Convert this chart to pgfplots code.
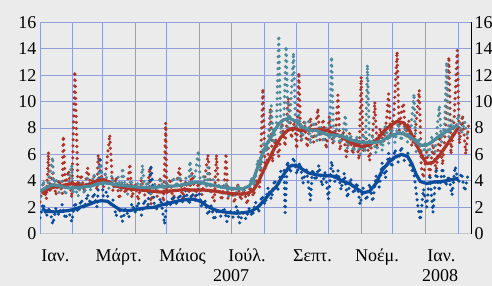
\documentclass[border=0pt]{standalone}
\usepackage{pgfplots}
\pgfplotsset{compat=1.18}
\usepackage{fontspec}
\setmainfont{Liberation Serif}
\definecolor{bg}{HTML}{EBEBEB}
\definecolor{gridc}{HTML}{909FDA}
\definecolor{cblue}{HTML}{0B4C9C}
\definecolor{cred}{HTML}{AE3329}
\definecolor{cteal}{HTML}{4C8A9C}
\begin{document}
\begin{tikzpicture}
\useasboundingbox (0,0) rectangle (492pt,286pt);
\clip (0,0) rectangle (492pt,286pt);
\fill[bg] (0,0) rectangle (492pt,286pt);
\pgfplotsset{
  dotser/.style={line width=3.5pt, line cap=round, dash pattern=on 0pt off 6pt},
  thickser/.style={line width=3.2pt, line join=round},
}
\begin{axis}[
  at={(40pt,52.3pt)}, anchor=south west,
  scale only axis, width=431pt, height=211.4pt,
  xmin=0, xmax=408, ymin=0, ymax=16,
  axis lines*=left,
  x axis line style={gray!45, line width=1.2pt},
  y axis line style={black, line width=0.8pt},
  xtick={14.5,74.5,135,196,258,319,380},
  xticklabels={Ιαν.,Μάρτ.,Μάιος,Ιούλ.,Σεπτ.,Νοέμ.,Ιαν.},
  x tick style={draw=none},
  xticklabel style={anchor=base, yshift=-28pt},
  extra x ticks={0,31,59,90,120,151,181,212,243,273,304,334,365,396},
  extra x tick labels={},
  extra x tick style={grid=major, tick align=outside, major tick length=3pt, tick style={gray!70, line width=1pt}},
  ytick={0,2,...,16},
  ymajorgrids=true,
  y tick style={draw=none},
  grid style={gridc, line width=0.9pt},
  tick label style={font=\fontsize{18}{20}\selectfont},
  /pgf/number format/assume math mode=true,
  axis background/.style={fill=bg},
]
% red daily series
\addplot[cred, dotser] coordinates {
(0,2.4)(3,3.8)(6,2.6)(8,6.2)(9,3.1)(12,4.6)(15,2.9)(18,4.1)(21,3.0)(22,7.4)(24,3.6)(27,4.8)(30,2.7)(33,12.3)(36,3.4)(39,4.5)(42,3.1)(45,5.0)(48,3.6)(51,4.4)(54,3.3)(55,6.0)(57,4.8)(60,3.5)(63,5.2)(66,7.5)(69,3.2)(72,4.3)(75,2.6)(78,3.9)(81,3.0)(84,4.5)(85,5.3)(87,2.7)(90,3.8)(93,2.5)(96,4.1)(99,2.9)(102,3.6)(104,5.0)(105,2.2)(108,3.9)(111,2.8)(114,4.3)(117,2.4)(119,8.4)(120,3.0)(123,4.2)(126,2.5)(129,3.7)(132,5.0)(135,2.6)(138,4.0)(141,3.0)(144,4.6)(147,2.8)(150,3.9)(153,2.9)(156,4.2)(159,6.0)(162,3.1)(165,2.4)(167,6.0)(169,3.5)(172,2.5)(175,4.3)(176,6.1)(178,2.6)(181,3.6)(184,2.3)(187,3.8)(190,2.5)(193,3.4)(196,2.2)(199,3.6)(202,2.8)(205,4.2)(208,3.5)(211,11.0)(213,4.8)(216,6.0)(218,9.5)(220,5.4)(223,7.2)(226,5.8)(229,8.4)(232,6.6)(235,10.3)(238,7.2)(241,8.6)(243,6.4)(245,12.2)(247,7.0)(250,8.5)(253,6.5)(256,8.8)(259,6.9)(263,9.5)(265,7.1)(268,8.7)(271,6.4)(274,8.9)(277,6.8)(280,7.9)(282,10.5)(284,6.3)(287,7.8)(290,5.8)(293,7.6)(296,6.0)(299,7.3)(302,5.6)(304,11.9)(306,6.2)(309,7.2)(312,5.5)(315,7.6)(317,10.0)(319,6.4)(322,8.0)(325,6.9)(328,8.6)(330,10.6)(332,7.5)(335,9.0)(338,13.8)(340,7.8)(342,9.2)(344,9.9)(346,7.4)(349,8.6)(352,6.6)(355,7.5)(359,10.9)(361,5.0)(363,4.2)(366,6.2)(369,4.4)(372,6.8)(375,4.6)(378,7.4)(381,5.2)(384,8.0)(387,13.4)(389,6.0)(392,8.6)(395,13.9)(397,6.8)(400,9.0)(403,6.0)(406,8.5)
};
% blue daily series
\addplot[cblue, dotser] coordinates {
(0,1.2)(3,2.3)(6,1.3)(9,2.0)(12,0.7)(15,1.9)(18,1.4)(21,2.2)(24,1.1)(27,1.8)(30,0.9)(33,2.4)(36,1.6)(39,2.6)(42,1.9)(45,3.0)(48,2.2)(51,3.1)(54,2.0)(57,5.8)(60,2.8)(63,3.2)(66,2.1)(69,2.6)(72,1.3)(75,2.0)(78,0.9)(81,1.9)(84,1.2)(87,2.3)(90,1.6)(93,2.4)(96,1.4)(99,2.6)(102,1.9)(105,5.2)(108,2.3)(111,1.8)(114,2.7)(118,0.7)(120,2.5)(123,2.1)(126,2.9)(129,2.3)(132,3.0)(135,2.4)(138,3.3)(141,2.2)(144,3.1)(147,2.5)(150,3.4)(153,2.0)(156,2.6)(159,1.4)(162,2.1)(165,1.0)(168,1.9)(171,1.3)(174,2.0)(177,0.9)(180,1.7)(183,1.2)(186,2.1)(189,0.8)(192,1.6)(195,1.1)(198,1.9)(201,1.3)(204,2.4)(207,1.6)(210,2.9)(213,2.2)(216,3.5)(219,2.6)(222,4.1)(225,3.2)(228,4.8)(231,4.9)(232,1.6)(234,5.5)(237,4.6)(240,5.8)(243,4.5)(246,5.4)(249,3.8)(252,5.0)(256,2.5)(258,4.9)(261,4.0)(264,5.2)(267,3.6)(270,4.7)(273,2.6)(276,5.5)(279,3.9)(282,4.8)(285,3.3)(288,4.6)(291,2.7)(294,4.2)(297,3.0)(300,3.9)(303,2.2)(306,3.5)(309,2.5)(312,3.8)(315,2.4)(318,4.4)(321,3.5)(324,5.4)(327,4.2)(330,6.1)(333,5.0)(336,6.4)(339,5.4)(342,6.6)(345,5.5)(348,6.2)(351,4.9)(354,4.6)(357,2.5)(360,1.0)(363,3.4)(366,2.0)(369,4.5)(372,1.6)(375,4.8)(378,3.2)(381,5.0)(384,3.6)(387,4.4)(390,2.9)(393,5.1)(396,3.8)(399,4.6)(402,3.2)(405,4.4)
};
% teal daily series
\addplot[cteal, dotser] coordinates {
(0,2.8)(3,4.0)(6,3.2)(9,4.4)(12,5.8)(13,3.6)(15,4.2)(18,3.1)(21,4.0)(24,2.9)(27,3.8)(30,5.2)(31,3.0)(33,3.6)(36,2.8)(39,3.9)(42,3.0)(45,4.2)(48,3.3)(51,4.5)(54,3.6)(57,5.3)(59,3.7)(62,4.6)(65,3.4)(68,4.4)(71,3.5)(74,4.3)(77,3.2)(78,5.0)(80,3.9)(83,3.0)(86,4.1)(89,3.3)(92,3.9)(95,3.1)(97,5.2)(99,3.4)(102,4.0)(105,3.0)(108,3.8)(111,3.2)(114,4.1)(117,3.4)(120,4.0)(123,3.2)(126,4.3)(129,3.5)(132,4.4)(135,3.3)(138,4.2)(141,3.6)(142,5.5)(144,3.7)(147,4.5)(150,6.3)(152,3.6)(155,4.4)(158,3.4)(159,5.0)(161,3.2)(164,4.1)(167,3.0)(170,3.8)(173,2.9)(176,3.9)(179,2.7)(182,3.6)(185,2.8)(188,3.7)(191,2.9)(194,3.6)(197,3.1)(200,4.3)(203,3.6)(206,5.6)(209,4.8)(212,7.0)(215,6.2)(217,7.9)(219,9.7)(221,6.8)(224,8.5)(226,15.0)(228,7.6)(231,9.0)(233,14.2)(235,8.0)(237,9.3)(240,13.7)(242,7.9)(245,9.0)(248,7.1)(251,8.4)(254,8.6)(256,6.8)(259,8.5)(262,7.0)(265,8.2)(268,6.9)(271,8.0)(274,7.2)(276,13.4)(278,6.9)(281,7.9)(284,6.8)(287,7.6)(289,9.0)(291,6.4)(294,7.5)(297,6.2)(300,7.3)(303,6.0)(306,7.4)(308,6.2)(310,12.8)(312,6.5)(315,7.4)(318,6.1)(321,7.3)(324,6.3)(327,8.3)(330,6.8)(333,8.0)(336,6.9)(339,8.4)(342,7.0)(345,8.2)(348,6.9)(351,7.8)(354,10.6)(356,6.2)(359,7.3)(362,5.6)(365,7.0)(368,5.9)(371,7.4)(374,6.2)(376,8.0)(378,9.7)(380,6.9)(383,8.2)(385,13.0)(387,7.3)(390,8.6)(393,7.5)(396,9.0)(399,7.6)(402,8.5)(405,7.2)
};
% red smoothed
\addplot[cred, thickser] coordinates {
(2,3.0)(6,3.3)(12,3.5)(18,3.6)(24,3.7)(30,3.8)(36,3.7)(42,3.6)(48,3.8)(54,4.0)(60,4.1)(66,3.9)(72,3.6)(78,3.5)(84,3.4)(90,3.35)(96,3.3)(102,3.25)(108,3.2)(114,3.15)(120,3.2)(126,3.25)(132,3.3)(138,3.35)(144,3.3)(150,3.3)(156,3.3)(162,3.25)(168,3.2)(174,3.1)(180,3.05)(186,3.0)(192,3.0)(198,3.1)(202,3.3)(206,3.8)(210,4.5)(214,5.2)(218,5.8)(222,6.5)(228,7.3)(234,7.8)(240,8.0)(246,7.8)(254,7.85)(262,7.9)(272,7.8)(284,7.4)(294,6.9)(304,6.6)(312,6.7)(320,7.2)(326,7.8)(332,8.2)(338,8.5)(344,8.4)(350,7.8)(356,6.8)(362,5.8)(366,5.3)(372,5.4)(378,5.9)(384,6.6)(390,7.3)(396,8.0)
};
% teal smoothed
\addplot[cteal, thickser] coordinates {
(2,3.3)(6,3.5)(12,3.7)(18,3.65)(24,3.5)(30,3.45)(36,3.5)(42,3.55)(48,3.6)(54,3.75)(60,3.85)(66,3.8)(72,3.7)(78,3.65)(84,3.6)(90,3.55)(96,3.5)(102,3.5)(108,3.5)(114,3.55)(120,3.6)(126,3.6)(132,3.65)(138,3.75)(144,3.85)(150,3.9)(156,3.8)(162,3.7)(168,3.6)(174,3.5)(180,3.45)(186,3.4)(192,3.4)(198,3.6)(202,4.1)(206,5.0)(210,5.9)(214,6.7)(218,7.2)(222,7.8)(226,8.3)(230,8.6)(236,8.75)(242,8.5)(248,8.1)(254,7.85)(262,7.8)(272,7.5)(285,7.4)(294,7.1)(306,6.9)(316,6.9)(324,7.0)(330,7.4)(340,7.6)(348,7.5)(354,7.1)(360,6.7)(366,6.7)(372,7.0)(378,7.4)(384,7.7)(390,8.0)(396,8.2)
};
% blue smoothed
\addplot[cblue, thickser] coordinates {
(2,1.9)(6,1.7)(14,1.65)(22,1.7)(30,1.8)(38,2.0)(46,2.2)(52,2.4)(58,2.5)(64,2.45)(70,2.1)(76,1.8)(84,1.75)(92,1.85)(100,1.95)(108,2.0)(116,2.2)(124,2.35)(132,2.5)(140,2.6)(146,2.6)(152,2.45)(158,2.1)(164,1.85)(170,1.7)(178,1.6)(186,1.55)(194,1.6)(200,1.7)(206,2.0)(212,2.5)(218,3.1)(224,3.6)(230,4.4)(236,5.1)(242,5.2)(248,4.9)(254,4.6)(262,4.45)(270,4.4)(278,4.35)(286,4.0)(294,3.75)(300,3.4)(306,3.1)(312,3.2)(318,3.8)(324,4.8)(330,5.4)(336,5.8)(342,6.0)(348,5.85)(352,5.3)(356,4.5)(360,3.95)(366,3.8)(372,3.9)(380,3.95)(388,4.05)(396,4.2)
};
\end{axis}
\begin{axis}[
  at={(40pt,52.3pt)}, anchor=south west,
  scale only axis, width=431pt, height=211.4pt,
  xmin=0, xmax=408, ymin=0, ymax=16,
  axis x line=none,
  axis y line*=right,
  y axis line style={black, line width=0.8pt},
  ytick={0,2,...,16},
  y tick style={draw=none},
  tick label style={font=\fontsize{18}{20}\selectfont},
  /pgf/number format/assume math mode=true,
]
\addplot[draw=none] coordinates {(0,0)};
\end{axis}
\node[anchor=base, font=\fontsize{18}{20}\selectfont] at (231pt,4.3pt) {2007};
\node[anchor=base, font=\fontsize{18}{20}\selectfont] at (440pt,4.3pt) {2008};
\end{tikzpicture}
\end{document}
